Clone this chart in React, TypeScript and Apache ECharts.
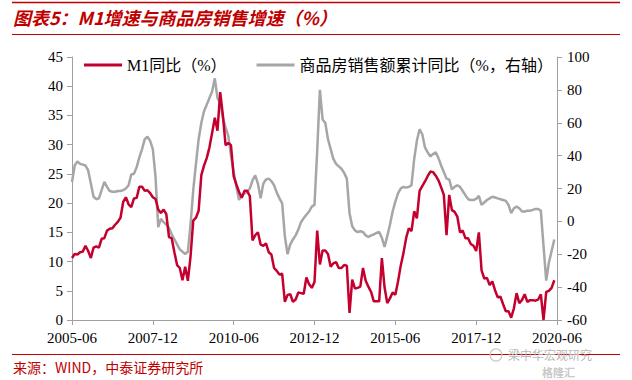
import React, { useEffect, useRef } from "react";
import * as echarts from "echarts";

// Monthly categories 2005-06 .. 2020-06
const categories: string[] = [];
for (let y = 2005; y <= 2020; y++) {
  for (let m = 1; m <= 12; m++) {
    if (y === 2005 && m < 6) continue;
    if (y === 2020 && m > 6) continue;
    categories.push(`${y}-${m < 10 ? "0" + m : m}`);
  }
}

const seriesNames = ["M1同比（%）", "商品房销售额累计同比（%，右轴）"];

// M1 YoY (%), left axis
const m1Yoy: (number | null)[] = [
  // 2005 Jun-Dec
  10.6, 11.3, 11.2, 11.6, 11.7, 12.7, 11.8,
  // 2006
  10.6, 12.4, 12.6, 12.4, 13.9, 14.0, 15.3, 15.6, 15.7, 16.3, 16.8, 17.5,
  // 2007
  20.2, 21.0, 19.8, 19.3, 20.8, 20.9, 22.8, 22.8, 22.1, 22.2, 21.7, 21.0,
  // 2008
  20.7, 18.9, 18.3, 18.9, 18.1, 14.2, 14.0, 11.6, 9.4, 8.9, 6.8, 9.1,
  // 2009
  6.7, 10.9, 17.0, 17.5, 18.7, 24.8, 26.4, 27.7, 29.5, 32.0, 34.6, 32.4,
  // 2010
  39.0, 35.0, 29.9, 30.3, 29.9, 24.6, 23.2, 21.9, 20.9, 22.1, 22.1, 21.2,
  // 2011
  13.6, 14.5, 15.0, 12.9, 12.7, 13.1, 11.6, 11.2, 8.9, 8.4, 7.8, 7.9,
  // 2012
  3.1, 4.3, 4.4, 3.1, 3.5, 4.7, 4.6, 4.5, 7.3, 6.1, 5.5, 6.5,
  // 2013
  15.3, 9.5, 11.9, 11.9, 11.3, 9.1, 9.7, 9.9, 8.9, 8.9, 9.4, 9.3,
  // 2014
  1.2, 6.9, 5.4, 5.5, 5.7, 8.9, 6.7, 5.7, 4.8, 3.2, 3.2, 3.2,
  // 2015
  10.6, 5.6, 2.9, 3.7, 4.7, 4.3, 6.6, 9.3, 11.4, 14.0, 15.7, 15.2,
  // 2016
  18.6, 17.4, 22.1, 22.9, 23.7, 24.6, 25.4, 25.3, 24.7, 23.9, 22.7, 21.4,
  // 2017
  14.5, 21.4, 18.8, 18.5, 17.7, 15.0, 15.3, 14.0, 14.0, 13.0, 12.7, 11.8,
  // 2018
  15.0, 8.5, 7.1, 7.2, 6.0, 6.6, 5.1, 3.9, 4.0, 2.7, 1.5, 1.5,
  // 2019
  0.4, 2.0, 4.6, 2.9, 3.4, 4.4, 3.1, 3.4, 3.4, 3.3, 3.5, 4.4,
  // 2020 Jan-Jun
  0.0, 4.8, 5.0, 5.5, 6.8, null,
];

// Commercial housing sales, cumulative YoY (%), right axis
const salesYoy: (number | null)[] = [
  // 2005 Jun-Dec
  24, 34, 36.5, 35, 34.5, 34, 31,
  // 2006
  23, 15, 13.5, 14, 19, 24, 21, 18.5, 18, 18, 18.5, 18.5,
  // 2007
  19, 20, 22, 28.5, 29, 33, 39, 44, 50, 51.5, 49, 44,
  // 2008
  27, -3.5, 1.5, -0.5, -2, -4, -8, -11, -14, -17, -18.5, -19.8,
  // 2009
  -18.5, -2, 19, 35, 50, 60, 67, 71, 75, 79, 87, 75,
  // 2010
  72, 63, 57, 52, 40, 30, 21, 13, 16, 17, 18, 20,
  // 2011
  25, 28, 23, 14, 23, 25.5, 26, 24.5, 22, 17.5, 14, 11,
  // 2012
  -9, -20, -14, -11, -8.5, -5, -0.5, 2, 4, 6, 9, 10,
  // 2013
  43, 80, 62, 60, 50, 44, 38, 35, 33.5, 32, 29.5, 26,
  // 2014
  5, -3, -5.5, -6.5, -6, -6.5, -8.5, -9.5, -8.5, -8, -7, -6.5,
  // 2015
  -10, -15.5, -9, -2, 6, 12, 17, 20, 21, 20.5, 21, 22,
  // 2016
  38, 49, 56, 53, 45, 42, 39.5, 41, 42, 38.5, 34, 30,
  // 2017
  26, 25.5, 19.5, 21, 22, 21, 18.5, 16, 13.5, 13, 13, 13.7,
  // 2018
  15.5, 10, 11.5, 13, 14, 15, 14.5, 14, 13.5, 13, 12.5, 10,
  // 2019
  5, 8, 9, 8, 6, 6, 6.5, 6.5, 7, 7.5, 7.5, 6.5,
  // 2020 Jan-Jun
  -15, -36, -25, -18, -11, null,
];

const leftAxis = { min: 0, max: 45, interval: 5 };
const rightAxis = { min: -60, max: 100, interval: 20 };

const titleText = "图表5：M1增速与商品房销售增速（%）";
const sourceText = "来源：WIND，中泰证券研究所";
const watermarkText = "梁中华宏观研究";
const watermarkLogo = "格隆汇";

const RED = "#c4002f";
const GRAY = "#a6a6a6";
const AXIS = "#a0a0a0";
const DARKRED = "#c00000";
const SERIF = "'Liberation Serif', 'Times New Roman', 'Noto Sans CJK SC', serif";

export default function App() {
  const ref = useRef<HTMLDivElement>(null);

  useEffect(() => {
    if (!ref.current) return;
    const chart = echarts.init(ref.current, undefined, { renderer: "svg" });
    chart.setOption({
      animation: false,
      backgroundColor: "#ffffff",
      grid: { left: 72, right: 75, top: 57, bottom: 60 },
      legend: {
        data: seriesNames,
        left: 79,
        top: 52,
        icon: "rect",
        itemWidth: 38,
        itemHeight: 3,
        itemGap: 30,
        textStyle: { fontSize: 16, color: "#000", fontFamily: SERIF },
      },
      xAxis: {
        type: "category",
        data: categories,
        boundaryGap: false,
        axisLine: { lineStyle: { color: AXIS, width: 1 } },
        axisTick: { interval: 29, length: 5, lineStyle: { color: AXIS } },
        axisLabel: {
          interval: 29,
          margin: 10,
          fontSize: 15,
          color: "#000",
          fontFamily: SERIF,
        },
        splitLine: { show: false },
      },
      yAxis: [
        {
          type: "value",
          min: leftAxis.min,
          max: leftAxis.max,
          interval: leftAxis.interval,
          axisLine: { show: true, lineStyle: { color: AXIS } },
          axisTick: { show: true, length: 5, lineStyle: { color: AXIS } },
          axisLabel: { fontSize: 15, color: "#000", fontFamily: SERIF, margin: 9 },
          splitLine: { show: false },
        },
        {
          type: "value",
          position: "right",
          min: rightAxis.min,
          max: rightAxis.max,
          interval: rightAxis.interval,
          axisLine: { show: true, lineStyle: { color: AXIS } },
          axisTick: { show: true, length: 5, lineStyle: { color: AXIS } },
          axisLabel: { fontSize: 15, color: "#000", fontFamily: SERIF, margin: 10 },
          splitLine: { show: false },
        },
      ],
      series: [
        {
          name: seriesNames[1],
          type: "line",
          yAxisIndex: 1,
          data: salesYoy,
          symbol: "none",
          lineStyle: { color: GRAY, width: 2.5 },
          itemStyle: { color: GRAY },
          z: 2,
        },
        {
          name: seriesNames[0],
          type: "line",
          yAxisIndex: 0,
          data: m1Yoy,
          symbol: "none",
          lineStyle: { color: RED, width: 2.5 },
          itemStyle: { color: RED },
          z: 3,
        },
      ],
      graphic: [
        {
          type: "line",
          shape: { x1: 12, y1: 2.5, x2: 620, y2: 2.5 },
          style: { stroke: DARKRED, lineWidth: 1.5 },
        },
        {
          type: "line",
          shape: { x1: 12, y1: 34.5, x2: 620, y2: 34.5 },
          style: { stroke: DARKRED, lineWidth: 1 },
        },
        {
          type: "text",
          left: 13,
          top: 8,
          style: {
            text: titleText,
            fill: DARKRED,
            font: "italic bold 18px 'Noto Sans CJK SC', sans-serif",
          },
        },
        {
          type: "line",
          shape: { x1: 12, y1: 354.5, x2: 620, y2: 354.5 },
          style: { stroke: DARKRED, lineWidth: 1 },
        },
        {
          type: "text",
          left: 13,
          top: 360,
          style: {
            text: sourceText,
            fill: DARKRED,
            font: "14px 'Noto Sans CJK SC', sans-serif",
          },
        },
        {
          type: "circle",
          shape: { cx: 496, cy: 355, r: 6 },
          style: { fill: "none", stroke: "#c8c8c8", lineWidth: 1.2 },
        },
        {
          type: "text",
          left: 508,
          top: 348,
          style: {
            text: watermarkText,
            fill: "#b8b8b8",
            font: "12px 'Noto Sans CJK SC', sans-serif",
          },
        },
        {
          type: "text",
          left: 542,
          top: 366,
          style: {
            text: watermarkLogo,
            fill: "#c8c8c8",
            font: "bold 11px 'Noto Sans CJK SC', sans-serif",
          },
        },
      ],
    });
    return () => chart.dispose();
  }, []);

  return (
    <div
      ref={ref}
      style={{ position: "fixed", left: 0, top: 0, width: 632, height: 380 }}
    />
  );
}
